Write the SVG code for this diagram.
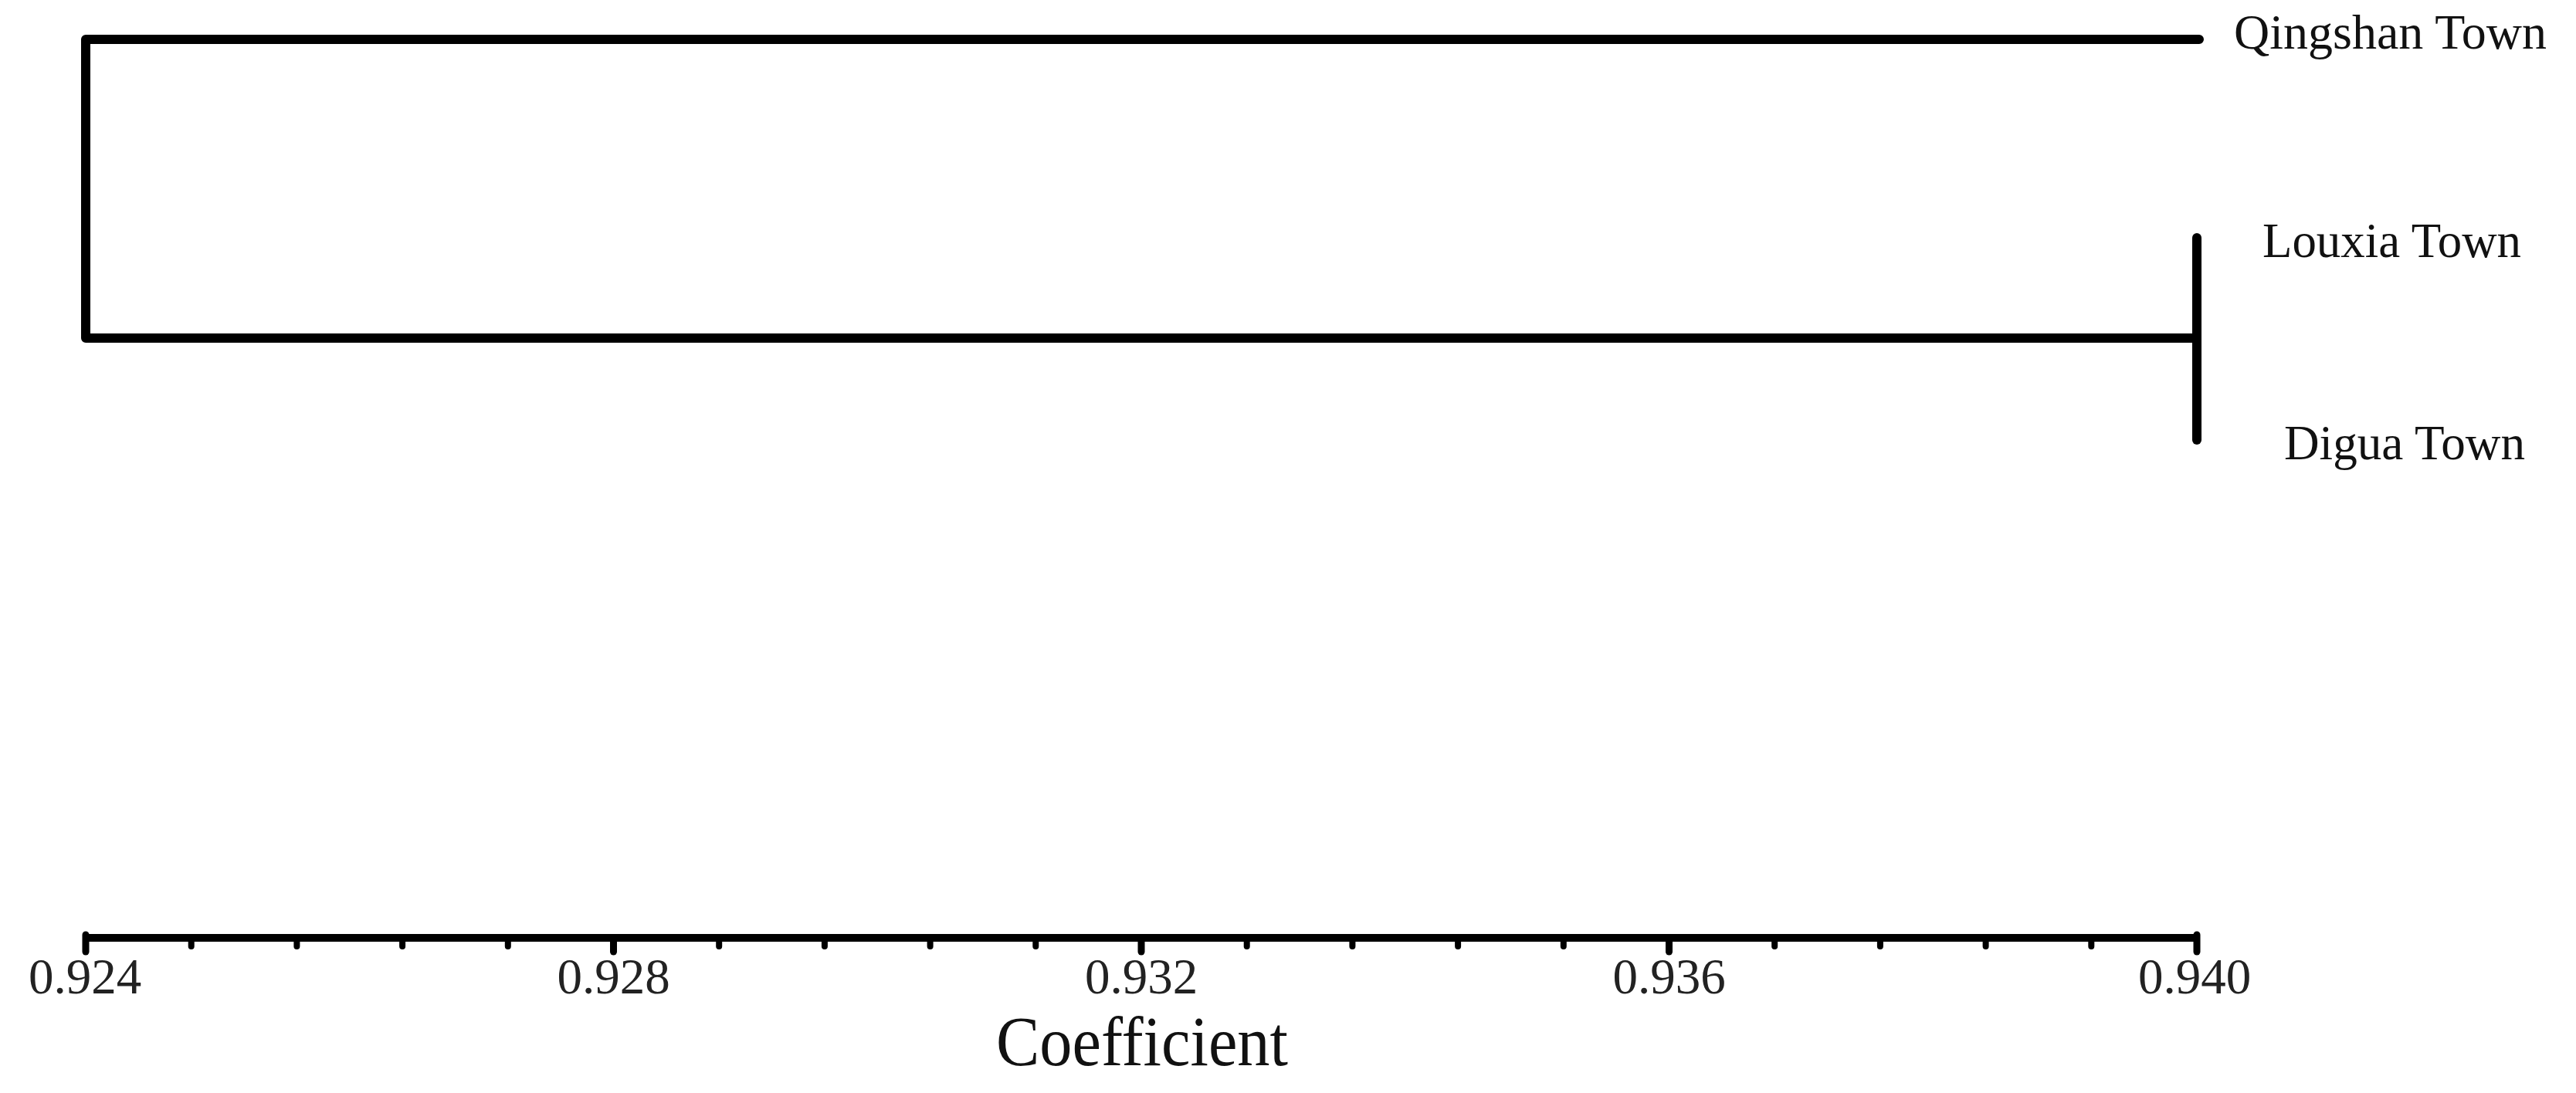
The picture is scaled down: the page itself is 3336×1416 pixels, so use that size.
<svg xmlns="http://www.w3.org/2000/svg" width="3336" height="1416" viewBox="0 0 3336 1416">
<style>
.br{fill:none;stroke:#000;stroke-width:12;stroke-linecap:round;stroke-linejoin:round}
.ax{fill:none;stroke:#000;stroke-width:10}
.mj{stroke:#000;stroke-width:9;stroke-linecap:round}
.mn{stroke:#000;stroke-width:8;stroke-linecap:round}
.lb{font-family:"Liberation Serif","Times New Roman",serif;font-size:63px;fill:#111}
.tk{font-family:"Liberation Serif","Times New Roman",serif;font-size:65px;fill:#222;text-anchor:middle}
.ti{font-family:"Liberation Serif","Times New Roman",serif;font-size:92px;fill:#111;text-anchor:middle}
</style>
<rect width="3336" height="1416" fill="#fff"/>
<g id="connectors">
<path class="br" d="M2848,51 H111 V438 H2845"/>
<path class="br" d="M2845,308 V570"/>
</g>
<g id="node-qingshan"><text class="lb" x="2893" y="63" textLength="405" lengthAdjust="spacingAndGlyphs">Qingshan Town</text></g>
<g id="node-louxia"><text class="lb" x="2930" y="333" textLength="335" lengthAdjust="spacingAndGlyphs">Louxia Town</text></g>
<g id="node-digua"><text class="lb" x="2958" y="595" textLength="312" lengthAdjust="spacingAndGlyphs">Digua Town</text></g>
<g id="axis">
<line class="ax" x1="111" y1="1215" x2="2845" y2="1215"/>
<line class="mj" x1="111" y1="1211" x2="111" y2="1233"/>
<line class="mn" x1="247.7" y1="1215" x2="247.7" y2="1226"/>
<line class="mn" x1="384.4" y1="1215" x2="384.4" y2="1226"/>
<line class="mn" x1="521.1" y1="1215" x2="521.1" y2="1226"/>
<line class="mn" x1="657.8" y1="1215" x2="657.8" y2="1226"/>
<line class="mj" x1="794.5" y1="1215" x2="794.5" y2="1233"/>
<line class="mn" x1="931.2" y1="1215" x2="931.2" y2="1226"/>
<line class="mn" x1="1067.9" y1="1215" x2="1067.9" y2="1226"/>
<line class="mn" x1="1204.6" y1="1215" x2="1204.6" y2="1226"/>
<line class="mn" x1="1341.3" y1="1215" x2="1341.3" y2="1226"/>
<line class="mj" x1="1478" y1="1215" x2="1478" y2="1233"/>
<line class="mn" x1="1614.7" y1="1215" x2="1614.7" y2="1226"/>
<line class="mn" x1="1751.4" y1="1215" x2="1751.4" y2="1226"/>
<line class="mn" x1="1888.1" y1="1215" x2="1888.1" y2="1226"/>
<line class="mn" x1="2024.8" y1="1215" x2="2024.8" y2="1226"/>
<line class="mj" x1="2161.5" y1="1215" x2="2161.5" y2="1233"/>
<line class="mn" x1="2298.2" y1="1215" x2="2298.2" y2="1226"/>
<line class="mn" x1="2434.9" y1="1215" x2="2434.9" y2="1226"/>
<line class="mn" x1="2571.6" y1="1215" x2="2571.6" y2="1226"/>
<line class="mn" x1="2708.3" y1="1215" x2="2708.3" y2="1226"/>
<line class="mj" x1="2845" y1="1211" x2="2845" y2="1233"/>
<text class="tk" x="110" y="1287">0.924</text>
<text class="tk" x="794.5" y="1287">0.928</text>
<text class="tk" x="1478" y="1287">0.932</text>
<text class="tk" x="2161.5" y="1287">0.936</text>
<text class="tk" x="2842" y="1287">0.940</text>
<text class="ti" x="1479" y="1380" textLength="378" lengthAdjust="spacingAndGlyphs">Coefficient</text>
</g>
</svg>
